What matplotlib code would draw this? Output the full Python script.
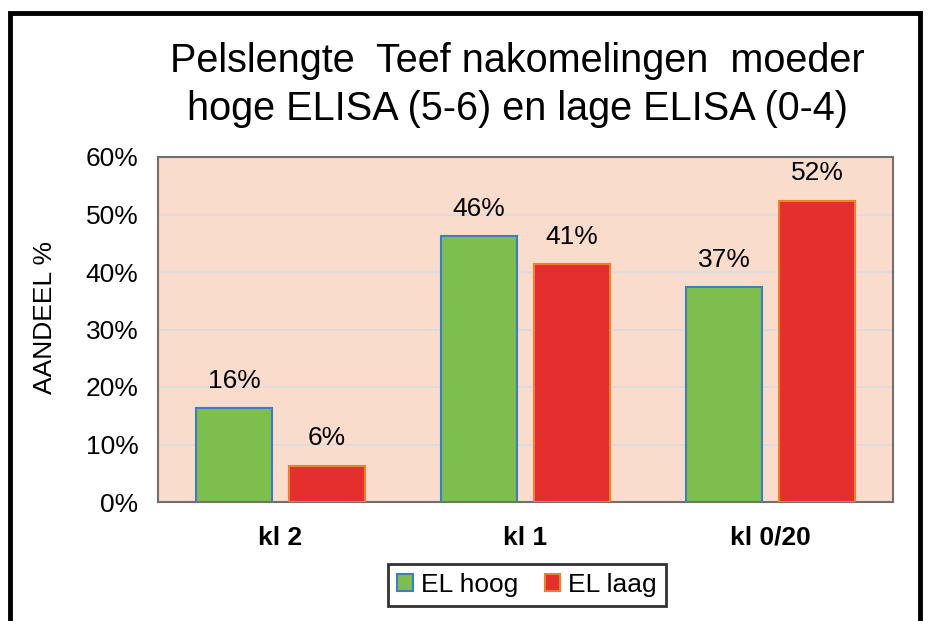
import numpy as np
import matplotlib.pyplot as plt
from matplotlib.patches import Rectangle

plt.rcParams['font.family'] = ['Liberation Sans', 'DejaVu Sans']

# data
categories = ['kl 2', 'kl 1', 'kl 0/20']
el_hoog = [16.3, 46.2, 37.4]
el_laag = [6.3, 41.4, 52.4]
series_names = ['EL hoog', 'EL laag']

fig = plt.figure(figsize=(9.3, 6.21), dpi=100)
ax = fig.add_axes([158 / 930, 1 - 502 / 621, 735 / 930, 345 / 621])

# outer frame of the picture
fig.patches.append(Rectangle((10 / 930, -0.05), 910 / 930, 1.05 - 13 / 621,
                             transform=fig.transFigure, fill=False,
                             edgecolor='black', linewidth=3.5, zorder=0))

x = np.arange(len(categories))
w = 0.31
b1 = ax.bar(x - 0.19, el_hoog, w, color='#7DBE4E', edgecolor='#3C7DC4',
            linewidth=1.5, label=series_names[0], zorder=3)
b2 = ax.bar(x + 0.19, el_laag, w, color='#E52E2E', edgecolor='#F07F2C',
            linewidth=1.5, label=series_names[1], zorder=3)

for bars, vals in ((b1, el_hoog), (b2, el_laag)):
    for r, v in zip(bars, vals):
        ax.annotate(f'{v:.0f}%', (r.get_x() + r.get_width() / 2, v),
                    xytext=(0, 11), textcoords='offset points',
                    ha='center', va='bottom', fontsize=19)

ax.set_xlim(-0.5, 2.5)
ax.set_ylim(0, 60)
ax.set_yticks(range(0, 61, 10))
ax.set_yticklabels([f'{t}%' for t in range(0, 61, 10)], fontsize=19)
ax.set_xticks(x)
ax.set_xticklabels(categories, fontsize=19, fontweight='bold')
ax.tick_params(axis='y', length=0, pad=14)
ax.tick_params(axis='x', length=0, pad=17)
ax.set_facecolor('#F9DCCC')
ax.grid(axis='y', color='#D9DCE0', linewidth=1.2, zorder=0)
ax.set_axisbelow(True)
for s in ax.spines.values():
    s.set_color('#707070')
    s.set_linewidth(1.5)

ax.set_ylabel('AANDEEL %', fontsize=19)
ax.yaxis.label.set_va('center')
ax.yaxis.set_label_coords(-0.154, 0.536)

fig.text(517 / 930, 1 - 85 / 621,
         'Pelslengte  Teef nakomelingen  moeder\nhoge ELISA (5-6) en lage ELISA (0-4)',
         ha='center', va='center', fontsize=28.5, linespacing=1.35)

leg = fig.legend(loc='center', bbox_to_anchor=(527 / 930, 1 - 585 / 621),
                 ncol=2, fontsize=19, frameon=True, fancybox=False,
                 handlelength=0.6, handleheight=0.6, handletextpad=0.3,
                 columnspacing=1.0, borderpad=0.35)
leg.get_frame().set_edgecolor('black')
leg.get_frame().set_linewidth(2)

fig.savefig('out.png', dpi=100)
